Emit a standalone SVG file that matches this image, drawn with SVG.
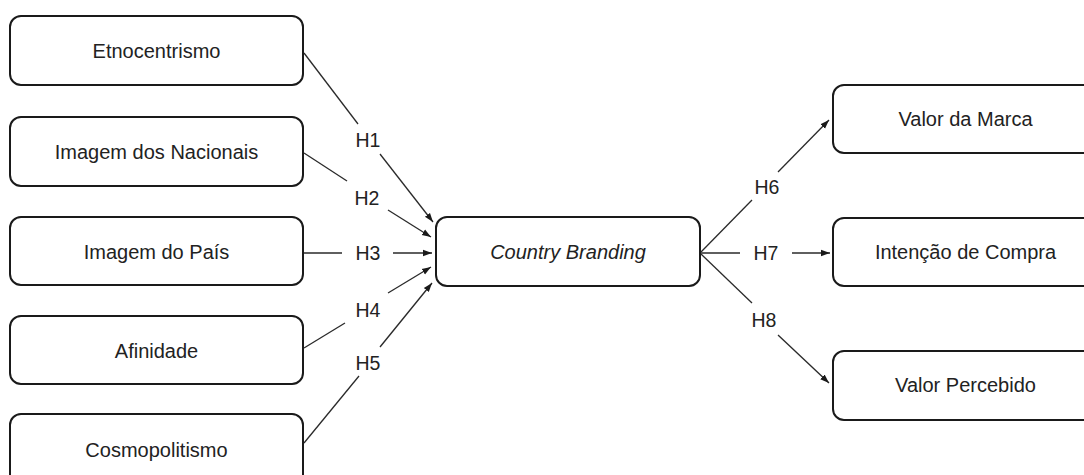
<svg xmlns="http://www.w3.org/2000/svg" width="1084" height="475" viewBox="0 0 1084 475">
<style>
.box{fill:#fff;stroke:#1a1a1a;stroke-width:2}
.t{font-family:"Liberation Sans",Arial,sans-serif;font-size:20px;fill:#222;text-anchor:middle}
.lbl{font-family:"Liberation Sans",Arial,sans-serif;font-size:19.5px;fill:#222;text-anchor:middle}
.ln{stroke:#2a2a2a;stroke-width:1.3;fill:none}
</style>
<defs>
<marker id="ah" markerUnits="userSpaceOnUse" markerWidth="10" markerHeight="8" refX="9" refY="4" orient="auto">
<path d="M0,0.8 L9,4 L0,7.2 Z" fill="#1a1a1a"/>
</marker>
</defs>
<rect width="1084" height="475" fill="#fff"/>
<g id="n-etno"><rect class="box" x="10" y="16" width="293" height="69" rx="11"/><text class="t" x="156.5" y="58">Etnocentrismo</text></g>
<g id="n-nac"><rect class="box" x="10" y="117" width="293" height="69" rx="11"/><text class="t" x="156.5" y="159">Imagem dos Nacionais</text></g>
<g id="n-pais"><rect class="box" x="10" y="217" width="293" height="68" rx="11"/><text class="t" x="156.5" y="259">Imagem do País</text></g>
<g id="n-afin"><rect class="box" x="10" y="316" width="293" height="68" rx="11"/><text class="t" x="156.5" y="358">Afinidade</text></g>
<g id="n-cosmo"><rect class="box" x="10" y="414" width="293" height="72" rx="11"/><text class="t" x="156.5" y="457">Cosmopolitismo</text></g>
<g id="n-cb"><rect class="box" x="436" y="217" width="264" height="69" rx="11"/><text class="t" x="568" y="259" font-style="italic">Country Branding</text></g>
<g id="n-marca"><rect class="box" x="833" y="85" width="265" height="68" rx="11"/><text class="t" x="965.5" y="126">Valor da Marca</text></g>
<g id="n-int"><rect class="box" x="833" y="218" width="265" height="68" rx="11"/><text class="t" x="965.5" y="259">Intenção de Compra</text></g>
<g id="n-perc"><rect class="box" x="833" y="351" width="265" height="69" rx="11"/><text class="t" x="965.5" y="392">Valor Percebido</text></g>
<g id="connectors">
<line class="ln" x1="304" y1="53" x2="358" y2="124"/>
<line class="ln" x1="380" y1="154" x2="433" y2="222" marker-end="url(#ah)"/>
<text class="lbl" x="368" y="147">H1</text>
<line class="ln" x1="304" y1="153" x2="347" y2="181"/>
<line class="ln" x1="388" y1="210" x2="431" y2="237" marker-end="url(#ah)"/>
<text class="lbl" x="367" y="205">H2</text>
<line class="ln" x1="304" y1="253" x2="342" y2="253"/>
<line class="ln" x1="393" y1="253" x2="432" y2="253" marker-end="url(#ah)"/>
<text class="lbl" x="368" y="260">H3</text>
<line class="ln" x1="304" y1="348" x2="345" y2="323"/>
<line class="ln" x1="388" y1="293" x2="431" y2="267" marker-end="url(#ah)"/>
<text class="lbl" x="368" y="317">H4</text>
<line class="ln" x1="304" y1="443" x2="359" y2="376"/>
<line class="ln" x1="380" y1="347" x2="432" y2="283" marker-end="url(#ah)"/>
<text class="lbl" x="368" y="370">H5</text>
<line class="ln" x1="701" y1="252" x2="752" y2="200"/>
<line class="ln" x1="778" y1="172" x2="829" y2="120" marker-end="url(#ah)"/>
<text class="lbl" x="767" y="194">H6</text>
<line class="ln" x1="701" y1="253" x2="740" y2="253"/>
<line class="ln" x1="792" y1="253" x2="830" y2="253" marker-end="url(#ah)"/>
<text class="lbl" x="766" y="260">H7</text>
<line class="ln" x1="701" y1="254" x2="752" y2="303"/>
<line class="ln" x1="778" y1="335" x2="829" y2="383" marker-end="url(#ah)"/>
<text class="lbl" x="764" y="327">H8</text>
</g>
</svg>
